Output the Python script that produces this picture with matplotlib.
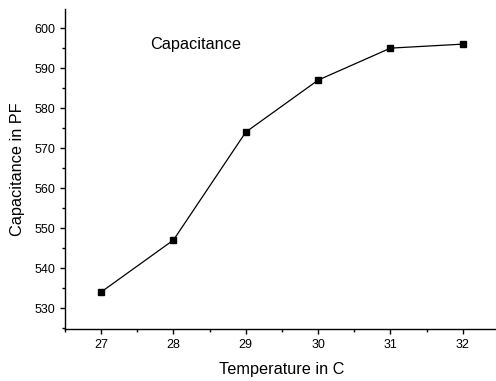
import matplotlib.pyplot as plt
from matplotlib.ticker import MultipleLocator

plt.rcParams['font.family'] = ['Liberation Sans', 'DejaVu Sans']

temperature = [27, 28, 29, 30, 31, 32]
capacitance = [534, 547, 574, 587, 595, 596]

fig = plt.figure(figsize=(4.96, 3.81), dpi=100)
ax = fig.add_axes([0.131, 0.1365, 0.875, 0.8395])

ax.plot(temperature, capacitance, color='black', linewidth=0.9,
        marker='s', markersize=5, markerfacecolor='black', markeredgecolor='black')

ax.set_xlim(26.5, 32.5)
ax.set_ylim(524.75, 604.75)
ax.xaxis.set_major_locator(MultipleLocator(1))
ax.xaxis.set_minor_locator(MultipleLocator(0.5))
ax.yaxis.set_major_locator(MultipleLocator(10))
ax.yaxis.set_minor_locator(MultipleLocator(5))

for side in ['top', 'right']:
    ax.spines[side].set_visible(False)
for side in ['left', 'bottom']:
    ax.spines[side].set_linewidth(1.0)

ax.tick_params(which='major', direction='out', length=3.6, width=1, labelsize=9, pad=3.5)
ax.tick_params(which='minor', direction='out', length=2.2, width=1)

ax.set_xlabel('Temperature in C', fontsize=11.7, labelpad=8)
ax.set_ylabel('Capacitance in PF', fontsize=11.7, labelpad=6.5)

ax.text(28.3, 596, 'Capacitance', fontsize=11.7, ha='center', va='center')

fig.savefig('out.png', dpi=100)
